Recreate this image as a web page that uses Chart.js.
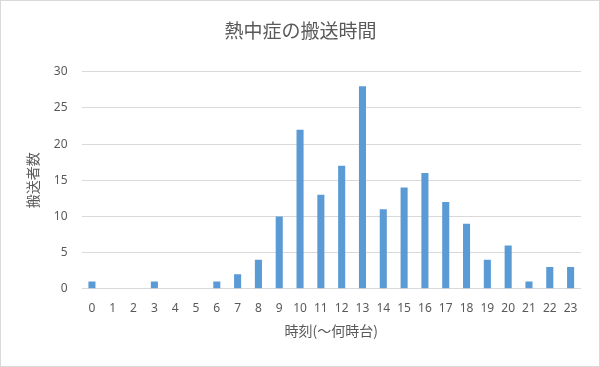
<!DOCTYPE html>
<html lang="ja">
<head>
  <meta charset="UTF-8">
  <title>熱中症の搬送時間</title>
  <style>
    html, body { margin: 0; padding: 0; background: #fff; }
    #wrap {
      width: 598px;
      height: 365px;
      border: 1px solid #d9d9d9;
      position: relative;
    }
  </style>
</head>
<body>
  <div id="wrap">
    <canvas id="grafico"></canvas>
  </div>

  <script src="https://cdn.jsdelivr.net/npm/chart.js"></script>
  <script>
    // dados
    const horas = ['0','1','2','3','4','5','6','7','8','9','10','11','12','13','14','15','16','17','18','19','20','21','22','23'];
    const pessoas = [1, 0, 0, 1, 0, 0, 1, 2, 4, 10, 22, 13, 17, 28, 11, 14, 16, 12, 9, 4, 6, 1, 3, 3];
    const ticksY = [0, 5, 10, 15, 20, 25, 30];

    const fonte = '"Noto Sans", "Noto Sans CJK JP", sans-serif';
    const cinza = '#595959';

    const ctx = document.getElementById('grafico').getContext('2d');
    new Chart(ctx, {
      type: 'bar',
      data: {
        labels: horas,
        datasets: [{
          label: '搬送者数',
          data: pessoas,
          backgroundColor: '#5b9bd5',
          categoryPercentage: 1,
          barPercentage: 0.34
        }]
      },
      options: {
        responsive: true,
        maintainAspectRatio: false,
        animation: false,
        layout: { padding: { top: 16, right: 18, bottom: 23, left: 19 } },
        plugins: {
          legend: { display: false },
          tooltip: { enabled: false },
          title: {
            display: true,
            text: '熱中症の搬送時間',
            color: cinza,
            font: { family: '"Noto Sans CJK JP", sans-serif', size: 19, weight: 'normal' },
            padding: { top: 2, bottom: 30 }
          }
        },
        scales: {
          x: {
            grid: { display: false, drawTicks: false },
            border: { display: false },
            ticks: { color: cinza, font: { family: fonte, size: 12 }, padding: 13, maxRotation: 0, autoSkip: false },
            title: {
              display: true,
              text: '時刻(～何時台)',
              color: cinza,
              font: { family: '"Noto Sans CJK JP", sans-serif', size: 14 },
              padding: { top: -7 }
            }
          },
          y: {
            min: 0,
            max: 30,
            afterBuildTicks: axis => { axis.ticks = ticksY.map(v => ({ value: v })); },
            grid: { color: '#d9d9d9', drawTicks: false, lineWidth: 1 },
            border: { display: false },
            ticks: { color: cinza, font: { family: fonte, size: 12 }, padding: 14 },
            title: {
              display: true,
              text: '搬送者数',
              color: cinza,
              font: { family: '"Noto Sans CJK JP", sans-serif', size: 14 },
              padding: { bottom: -1 }
            }
          }
        }
      }
    });
  </script>
</body>
</html>
